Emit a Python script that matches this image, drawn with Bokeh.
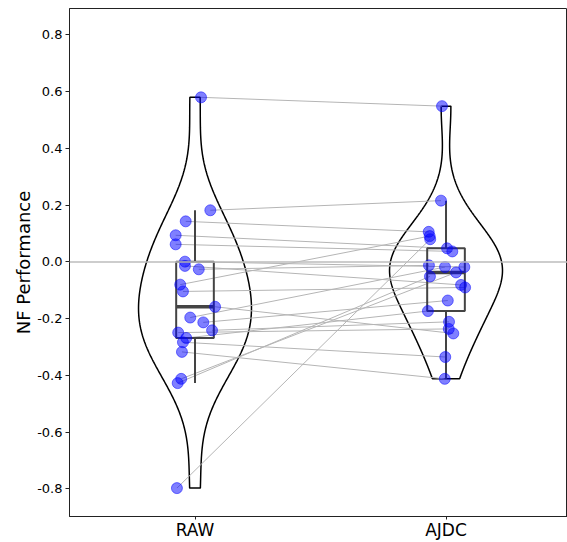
import numpy as np
from bokeh.plotting import figure
from bokeh.models import FixedTicker, Span, Range1d
from bokeh.embed import file_html
from bokeh.resources import INLINE

# ---- data ----
categories = ["RAW", "AJDC"]
# paired values (same subject on each row)
raw_values = [0.580, 0.182, 0.143, 0.094, 0.062, 0.001, -0.014, -0.026, -0.080, -0.104,
              -0.158, -0.196, -0.213, -0.241, -0.249, -0.268, -0.283, -0.317, -0.412, -0.427, -0.797]
ajdc_values = [0.549, 0.216, 0.106, 0.048, 0.037, -0.018, -0.081, -0.012, 0.091, -0.090,
               -0.252, -0.018, -0.136, -0.211, -0.236, -0.173, -0.335, -0.412, -0.037, -0.051, 0.080]
# horizontal jitter of each dot (category units)
raw_jitter = [0.024, 0.061, -0.037, -0.077, -0.077, -0.040, -0.040, 0.015, -0.059, -0.048,
              0.080, -0.019, 0.033, 0.068, -0.067, -0.035, -0.048, -0.052, -0.055, -0.069, -0.072]
ajdc_jitter = [-0.016, -0.020, -0.069, 0.004, 0.025, 0.073, 0.060, -0.068, -0.065, 0.076,
               0.029, -0.004, 0.007, 0.012, 0.011, -0.072, -0.003, -0.005, 0.040, -0.064, -0.063]
y_ticks = [-0.8, -0.6, -0.4, -0.2, 0.0, 0.2, 0.4, 0.6, 0.8]
y_tick_labels = ["-0.8", "-0.6", "-0.4", "-0.2", "0.0", "0.2", "0.4", "0.6", "0.8"]

FONT = "DejaVu Sans"

p = figure(width=567, height=542, output_backend="svg", toolbar_location=None,
           x_range=Range1d(-0.5, 1.484), y_range=Range1d(-0.897, 0.893),
           min_border_left=69, min_border_right=0, min_border_top=8, min_border_bottom=25)
p.xgrid.visible = False
p.ygrid.visible = False
p.outline_line_color = "#222222"
p.outline_line_width = 1

# zero line
p.add_layout(Span(location=0, dimension="width", line_color="#bdbdbd", line_width=1.5))

groups = [(0, raw_values, raw_jitter), (1, ajdc_values, ajdc_jitter)]

# violins (gaussian KDE with Scott's bandwidth, cut at data range, common max width)
half_width = 0.225
for c, vals, _ in groups:
    v = np.array(vals)
    bw = v.std(ddof=1) * len(v) ** (-1 / 5)
    grid = np.linspace(v.min(), v.max(), 300)
    dens = np.exp(-0.5 * ((grid[:, None] - v[None, :]) / bw) ** 2).sum(axis=1)
    dens = dens / dens.max() * half_width
    xs = np.concatenate([c + dens, (c - dens)[::-1]])
    ys = np.concatenate([grid, grid[::-1]])
    p.patch(xs, ys, fill_alpha=0, line_color="black", line_width=1.5)

# connecting lines
rx = [0 + j for j in raw_jitter]
ax = [1 + j for j in ajdc_jitter]
p.segment(x0=rx, y0=raw_values, x1=ax, y1=ajdc_values, line_color="#b5b5b5", line_width=1)

# box plots
box_half = 0.075
for c, vals, _ in groups:
    v = np.array(vals)
    q1, med, q3 = np.percentile(v, [25, 50, 75])
    iqr = q3 - q1
    lo = v[v >= q1 - 1.5 * iqr].min()
    hi = v[v <= q3 + 1.5 * iqr].max()
    p.segment(x0=[c, c], y0=[q3, q1], x1=[c, c], y1=[hi, lo], line_color="#444444", line_width=2)
    p.quad(left=[c - box_half], right=[c + box_half], top=[q3], bottom=[q1],
           fill_alpha=0, line_color="#444444", line_width=2)
    p.segment(x0=[c - box_half], y0=[med], x1=[c + box_half], y1=[med],
              line_color="#444444", line_width=3.5)

# dots
p.scatter(rx, raw_values, size=11, fill_color="blue", fill_alpha=0.5, line_color="blue", line_alpha=0.5)
p.scatter(ax, ajdc_values, size=11, fill_color="blue", fill_alpha=0.5, line_color="blue", line_alpha=0.5)

# axes
p.xaxis.ticker = FixedTicker(ticks=[0, 1])
p.xaxis.major_label_overrides = {0: categories[0], 1: categories[1]}
p.xaxis.major_label_text_font = FONT
p.xaxis.major_label_text_font_size = "17px"
p.xaxis.major_label_text_color = "black"
p.xaxis.major_label_standoff = 0
p.xaxis.minor_tick_line_color = None
p.xaxis.major_tick_out = 3
p.xaxis.major_tick_in = 0

p.yaxis.ticker = FixedTicker(ticks=y_ticks)
p.yaxis.major_label_overrides = {t: l for t, l in zip(y_ticks, y_tick_labels)}
p.yaxis.major_label_text_font = FONT
p.yaxis.major_label_text_font_size = "13px"
p.yaxis.major_label_text_color = "black"
p.yaxis.major_label_standoff = 3
p.yaxis.minor_tick_line_color = None
p.yaxis.major_tick_out = 4
p.yaxis.major_tick_in = 0
p.yaxis.axis_label = "NF Performance"
p.yaxis.axis_label_text_font = FONT
p.yaxis.axis_label_text_font_size = "18px"
p.yaxis.axis_label_text_font_style = "normal"
p.yaxis.axis_label_text_color = "black"
p.yaxis.axis_label_standoff = 0
for ax_ in (p.xaxis, p.yaxis):
    ax_.axis_line_color = "#222222"
    ax_.major_tick_line_color = "#222222"

open("out.html", "w").write(file_html(p, INLINE))
